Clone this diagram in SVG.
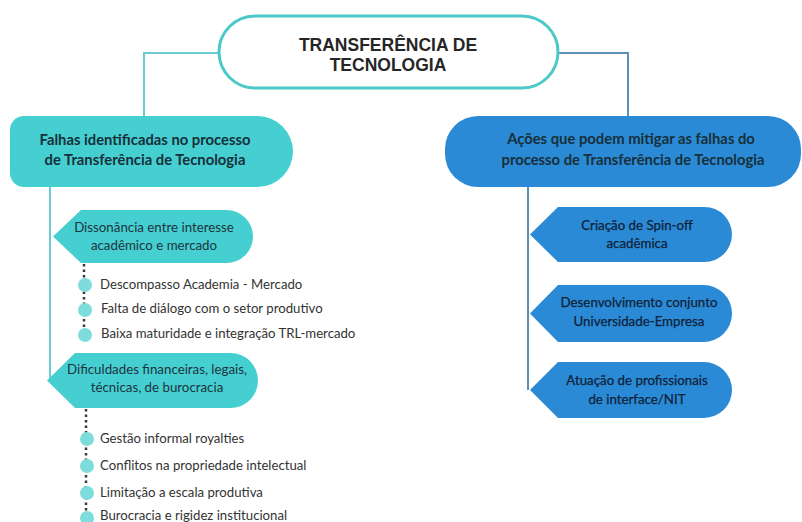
<svg xmlns="http://www.w3.org/2000/svg" width="802" height="522" viewBox="0 0 802 522">
<defs>
<style>
.bg{fill:#ffffff}
.title{fill:#ffffff;stroke:#4cc8c8;stroke-width:3}
.teal{fill:#45cfd0}
.blue{fill:#2b8ad6}
.bullet{fill:#7fdcdc}
.ln-teal{fill:none;stroke:#6ccbd2;stroke-width:2}
.ln-blue{fill:none;stroke:#5a92b5;stroke-width:2}
.dots{fill:none;stroke:#3a3a3a;stroke-width:2.5;stroke-dasharray:2.5 3}
.t-title{font-family:"Liberation Sans",Arial,sans-serif;font-weight:bold;font-size:17.5px;fill:#262626;text-anchor:middle}
.t-head{font-family:Lato,"Open Sans",sans-serif;font-weight:bold;font-size:14.8px;fill:#17303a;text-anchor:middle}
.t-box{font-family:Lato,"Open Sans",sans-serif;font-size:13.3px;fill:#1f3340;text-anchor:middle}
.t-boxb{font-family:Lato,"Open Sans",sans-serif;font-size:13.3px;fill:#0f2238;text-anchor:middle;stroke:#0f2238;stroke-width:0.25}
.t-bl{font-family:Lato,"Open Sans",sans-serif;font-size:13.2px;fill:#333333}
</style>
</defs>
<rect class="bg" x="0" y="0" width="802" height="522"/>
<g id="connectors">
<polyline class="ln-teal" points="220,53 144,53 144,117"/>
<polyline class="ln-blue" points="556,53 628,53 628,117"/>
<line class="ln-teal" x1="50" y1="187" x2="50" y2="381"/>
<line class="ln-blue" x1="528" y1="187" x2="528" y2="390"/>
<line class="dots" x1="84" y1="264" x2="84" y2="335"/>
<line class="dots" x1="86" y1="409" x2="86" y2="517"/>
</g>
<g id="title">
<rect class="title" x="219" y="16" width="339" height="72" rx="36"/>
<text class="t-title" x="388" y="51">TRANSFERÊNCIA DE</text>
<text class="t-title" x="388" y="71">TECNOLOGIA</text>
</g>
<g id="falhas">
<path class="teal" d="M24,116 H257.5 A35.5,35.5 0 0 1 257.5,187 H24 A14,14 0 0 1 10,173 V130 A14,14 0 0 1 24,116 Z"/>
<text class="t-head" x="145" y="145">Falhas identificadas no processo</text>
<text class="t-head" x="145" y="165">de Transferência de Tecnologia</text>
</g>
<g id="acoes">
<rect class="blue" x="445" y="116" width="356" height="71" rx="33"/>
<text class="t-head" x="631" y="144">Ações que podem mitigar as falhas do</text>
<text class="t-head" x="633" y="165">processo de Transferência de Tecnologia</text>
</g>
<g id="dissonancia">
<path class="teal" d="M53,236.5 L81,210 H226.5 A26.5,26.5 0 0 1 226.5,263 H81 Z"/>
<text class="t-box" x="154" y="232">Dissonância entre interesse</text>
<text class="t-box" x="154" y="250">acadêmico e mercado</text>
</g>
<g id="b1">
<circle class="bullet" cx="85" cy="285" r="7"/>
<text class="t-bl" x="100" y="289">Descompasso Academia - Mercado</text>
</g>
<g id="b2">
<circle class="bullet" cx="85" cy="310" r="7"/>
<text class="t-bl" x="101" y="313">Falta de diálogo com o setor produtivo</text>
</g>
<g id="b3">
<circle class="bullet" cx="85" cy="335" r="7"/>
<text class="t-bl" x="101" y="338">Baixa maturidade e integração TRL-mercado</text>
</g>
<g id="dificuldades">
<path class="teal" d="M47,380.5 L75,353 H230.5 A27.5,27.5 0 0 1 230.5,408 H75 Z"/>
<text class="t-box" x="157" y="374">Dificuldades financeiras, legais,</text>
<text class="t-box" x="157" y="392">técnicas, de burocracia</text>
</g>
<g id="b4">
<circle class="bullet" cx="87" cy="439" r="7"/>
<text class="t-bl" x="100" y="443">Gestão informal royalties</text>
</g>
<g id="b5">
<circle class="bullet" cx="87" cy="466" r="7"/>
<text class="t-bl" x="100" y="470">Conflitos na propriedade intelectual</text>
</g>
<g id="b6">
<circle class="bullet" cx="87" cy="493" r="7"/>
<text class="t-bl" x="100" y="497">Limitação a escala produtiva</text>
</g>
<g id="b7">
<circle class="bullet" cx="87" cy="518" r="7"/>
<text class="t-bl" x="100" y="520">Burocracia e rigidez institucional</text>
</g>
<g id="spinoff">
<path class="blue" d="M530,234.5 L558,207 H704.5 A27.5,27.5 0 0 1 704.5,262 H558 Z"/>
<text class="t-boxb" x="637" y="230">Criação de Spin-off</text>
<text class="t-boxb" x="637" y="248">acadêmica</text>
</g>
<g id="desenvolvimento">
<path class="blue" d="M530,313.5 L558,285 H703.5 A28.5,28.5 0 0 1 703.5,342 H558 Z"/>
<text class="t-boxb" x="639" y="307">Desenvolvimento conjunto</text>
<text class="t-boxb" x="639" y="326">Universidade-Empresa</text>
</g>
<g id="atuacao">
<path class="blue" d="M530,390 L558,362 H704 A28,28 0 0 1 704,418 H558 Z"/>
<text class="t-boxb" x="637" y="385">Atuação de profissionais</text>
<text class="t-boxb" x="637" y="404">de interface/NIT</text>
</g>
</svg>
